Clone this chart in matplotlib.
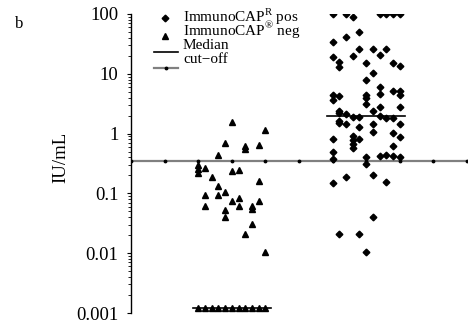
import numpy as np
import matplotlib
matplotlib.use("Agg")
import matplotlib.pyplot as plt
from matplotlib.lines import Line2D

plt.rcParams['font.family'] = ['Liberation Serif', 'DejaVu Serif']
plt.rcParams['mathtext.fontset'] = 'custom'
plt.rcParams['mathtext.rm'] = 'Liberation Serif'

# column index (jitter slot, -5..5) and value, IU/mL
neg_col = [-5, -5, -5, -5,
           -4, -4, -4, -4,
           -3, -3,
           -2, -2, -2, -2,
           -1, -1, -1, -1, -1,
           0, 0, 0, 0,
           1, 1, 1, 1,
           2, 2, 2, 2,
           3, 3, 3, 3,
           4, 4, 4, 4,
           5, 5, 5]
neg_val = [0.30, 0.26, 0.22, 0.0012,
           0.27, 0.094, 0.062, 0.0012,
           0.19, 0.0012,
           0.44, 0.133, 0.094, 0.0012,
           0.69, 0.106, 0.052, 0.041, 0.0012,
           1.57, 0.24, 0.075, 0.0012,
           0.25, 0.083, 0.062, 0.0012,
           0.62, 0.55, 0.021, 0.0012,
           0.062, 0.054, 0.031, 0.0012,
           0.64, 0.16, 0.075, 0.0012,
           1.13, 0.0106, 0.0012]

pos_col = [-5] * 9 + [-4] * 8 + [-3] * 5 + [-2] * 7 + [-1] * 6 + [0] * 8 \
    + [1] * 7 + [2] * 7 + [3] * 5 + [4] * 7 + [5] * 8
pos_val = [100, 34, 19, 4.5, 3.6, 0.82, 0.50, 0.38, 0.15,
           15.7, 13, 4.2, 2.4, 2.2, 1.6, 1.5, 0.021,
           100, 41, 2.1, 1.46, 0.19,
           90, 20, 1.9, 0.91, 0.78, 0.68, 0.58,
           50, 26, 1.9, 1.3, 0.80, 0.021,
           15.4, 7.8, 4.4, 3.9, 3.1, 0.40, 0.31, 0.0106,
           26, 10.3, 2.4, 1.46, 1.07, 0.20, 0.041,
           100, 21, 6.0, 4.6, 2.8, 2.0, 0.42,
           100, 26, 1.83, 0.44, 0.157,
           100, 15.4, 5.25, 1.83, 1.03, 0.62, 0.42,
           100, 13.5, 5.25, 4.4, 2.8, 1.46, 0.87, 0.40]

group_pos = [1, 2]
medians = [0.0012, 2.0]
cutoff = 0.35
ytick_vals = [0.001, 0.01, 0.1, 1, 10, 100]
ytick_labels = ["0.001", "0.01", "0.1", "1", "10", "100"]
legend_labels = ['ImmunoCAP$^{\\mathrm{R}}$ pos', 'ImmunoCAP$^{\\mathrm{\u00ae}}$ neg',
                 'Median', 'cut\u2212off']

W, H = 469, 327
fig = plt.figure(figsize=(W / 100, H / 100), dpi=100)
ax = fig.add_axes([131 / W, 14 / H, 336 / W, 299 / H])

step = 0.05
neg_x = [group_pos[0] + c * step for c in neg_col]
pos_x = [group_pos[1] + c * step for c in pos_col]

# cut-off line with small dots
cut_style = dict(color='0.5', lw=1.6, marker='.', ms=3.5, mfc='k', mec='k')
pos_style = dict(ls='none', marker='D', ms=3.4, color='k')
neg_style = dict(ls='none', marker='^', ms=4, color='k')
med_style = dict(color='k', lw=1.2)

xs = np.arange(0.25, 2.76, 0.25)
ax.plot(xs, [cutoff] * len(xs), zorder=1, **cut_style)
ax.plot(pos_x, pos_val, zorder=3, **pos_style)
ax.plot(neg_x, neg_val, zorder=3, **neg_style)
for g, m in zip(group_pos, medians):
    ax.plot([g - 0.29, g + 0.29], [m, m], zorder=4, **med_style)

ax.set_yscale('log')
ax.set_ylim(0.001, 100)
ax.set_xlim(0.25, 2.75)
ax.set_yticks(ytick_vals)
ax.set_yticklabels(ytick_labels, fontsize=13.5)
ax.set_xticks([])
for s in ['top', 'right', 'bottom']:
    ax.spines[s].set_visible(False)
ax.spines['left'].set_linewidth(1.0)
ax.tick_params(axis='y', which='major', length=3, width=0.8, pad=6)
ax.tick_params(axis='y', which='minor', length=2, width=0.6)
ax.set_ylabel('IU/mL', fontsize=13.5)
ax.yaxis.set_label_coords(-0.185, 0.52)

# hand-made legend (handles sit a little lower than the text, as in the original)
text_base = [22, 35, 49, 63]
handle_y = [18, 36, 52, 68]
styles = [pos_style, neg_style, med_style, cut_style]
for lab, tb, hy, st in zip(legend_labels, text_base, handle_y, styles):
    fy = 1 - hy / H
    if st.get('ls') == 'none':
        fig.add_artist(Line2D([165 / W], [fy], transform=fig.transFigure, **st))
    else:
        kw = dict(st)
        kw.pop('marker', None)
        fig.add_artist(Line2D([154 / W, 178 / W], [fy, fy], transform=fig.transFigure, **kw))
        if 'mfc' in st:
            fig.add_artist(Line2D([166 / W], [fy], transform=fig.transFigure, ls='none',
                                  marker='.', ms=3.5, color='k'))
    fig.text(183 / W, 1 - tb / H, lab, fontsize=11, va='baseline')

fig.text(15 / W, 1 - 28 / H, 'b', fontsize=12)

fig.savefig('out.png', dpi=100)
